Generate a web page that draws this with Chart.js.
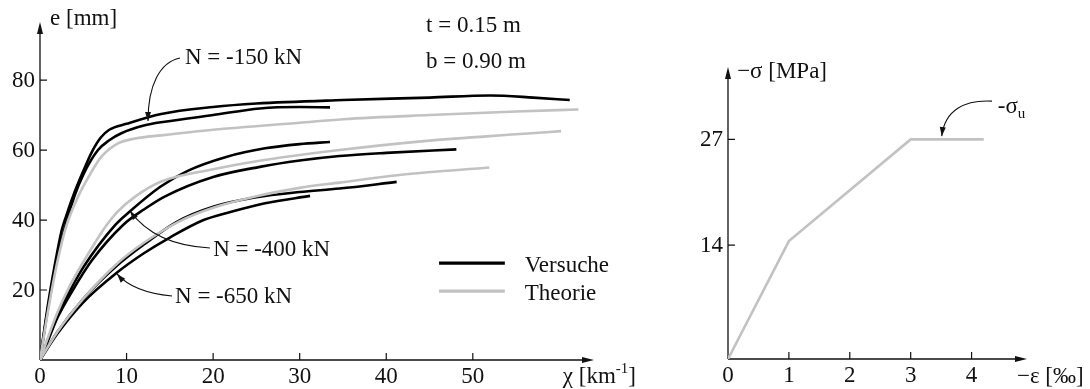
<!DOCTYPE html>
<html>
<head>
<meta charset="utf-8">
<script src="https://cdn.jsdelivr.net/npm/chart.js@4"></script>
<style>
  body { margin: 0; background: #fff; }
  #wrap { position: relative; width: 1090px; height: 389px; }
  #leftBox { position: absolute; left: 0; top: 0; }
  #rightBox { position: absolute; left: 660px; top: 0; }
</style>
</head>
<body>
<div id="wrap">
  <div id="leftBox"><canvas id="curvChart" width="660" height="389"></canvas></div>
  <div id="rightBox"><canvas id="stressChart" width="430" height="389"></canvas></div>
</div>
<script>
// ---- left chart: e [mm] vs chi [1/km] ----
// N = -150 kN
const chi150A = [0, 1, 2, 2.5, 3, 4, 5, 6, 7, 8, 10, 14, 20, 25, 35, 45, 52, 57, 61.2];
const e150A   = [0, 17, 31, 37, 41, 48, 54, 59.5, 63.5, 65.8, 67.5, 70.3, 72.3, 73.3, 74.3, 75, 75.6, 75, 74.3];
const chi150B = [0, 1, 2, 3, 4, 5, 6.7, 8, 9.4, 12, 14.4, 20, 25.4, 30, 33.5];
const e150B   = [0, 16, 29, 39, 47, 53, 60, 62.8, 64.8, 67, 68.1, 70, 71.9, 72.3, 72.2];
const chi150T = [0, 1, 2, 3, 4.4, 6, 7.1, 9, 11, 14, 20, 30, 35, 45, 55, 62.2];
const e150T   = [0, 15, 28, 38, 46.7, 54, 58.1, 61.9, 63.3, 64.2, 65.8, 67.8, 68.8, 70, 71, 71.6];
// N = -400 kN
const chi400A = [0, 1, 2, 3.5, 5, 8.7, 10.4, 13.9, 17, 21.6, 26, 30, 33.5];
const e400A   = [0, 6.5, 12.5, 20, 26.5, 38.6, 42.5, 49.5, 54, 58.1, 60.5, 61.7, 62.3];
const chi400B = [0, 1, 2, 3.8, 6, 9.6, 12, 14.4, 20, 25.4, 30, 34.6, 40, 48.1];
const e400B   = [0, 6, 12, 20, 28.5, 38.6, 43, 46.7, 52.3, 55.2, 57, 58.3, 59.2, 60.2];
const chi400T = [0, 1, 2, 3.2, 5, 7.7, 9, 11, 14, 20, 25, 34.6, 45, 55, 60.2];
const e400T   = [0, 7, 13.5, 20, 28, 38.6, 42.5, 46.7, 51, 54.5, 56.8, 60, 62.7, 64.5, 65.4];
// N = -650 kN
const chi650A = [0, 2, 5, 8.9, 12, 15.8, 20, 25, 30, 34.6, 41.2];
const e650A   = [0, 8, 17.5, 27, 33, 39.5, 43.8, 46.5, 48, 49, 50.9];
const chi650B = [0, 2, 5, 8.9, 12, 15, 18.9, 22, 26, 31.2];
const e650B   = [0, 7.5, 16.5, 25, 30.5, 35, 40, 42.3, 44.8, 46.9];
const chi650T = [0, 2, 5, 8.7, 12, 16, 20, 25, 30, 34.6, 42, 51.9];
const e650T   = [0, 8, 17.5, 27.1, 33.5, 39.5, 43.5, 46.8, 49.2, 50.7, 53, 55];

const leftXTicks = [0, 10, 20, 30, 40, 50];
const leftYTicks = [20, 40, 60, 80];

// ---- right chart: -sigma [MPa] vs -eps [permille] ----
const epsTheorie   = [0, 1, 3, 4.2];
const sigmaTheorie = [0, 14.5, 27, 27];
const rightXTicks = [0, 1, 2, 3, 4];
const rightYTicks = [14, 27];

const BLACK = '#000000';
const GRAY = '#c2c2c2';
const FONT = '23px "Liberation Serif", "Times New Roman", serif';
const SMALL = '15px "Liberation Serif", "Times New Roman", serif';

function pts(xs, ys) {
    return xs.map((x, i) => ({ x: x, y: ys[i] }));
}

function arrowHead(ctx, fx, fy, tx, ty, len, half) {
    const a = Math.atan2(ty - fy, tx - fx);
    ctx.beginPath();
    ctx.moveTo(tx, ty);
    ctx.lineTo(tx - len * Math.cos(a) + half * Math.sin(a), ty - len * Math.sin(a) - half * Math.cos(a));
    ctx.lineTo(tx - len * Math.cos(a) - half * Math.sin(a), ty - len * Math.sin(a) + half * Math.cos(a));
    ctx.closePath();
    ctx.fill();
}

// draw text made of pieces, some raised (sup) or lowered (sub)
function richText(ctx, x, y, parts) {
    let cx = x;
    parts.forEach(p => {
        ctx.font = p.sup || p.sub ? SMALL : FONT;
        const dy = p.sup ? -10 : (p.sub ? 5 : 0);
        ctx.fillText(p.t, cx, y + dy);
        cx += ctx.measureText(p.t).width;
    });
}

// axes with inward ticks and arrow ends, plus texts and annotation arrows
const axesPlugin = {
    id: 'axes',
    beforeDatasetsDraw(chart, args, opts) {
        const ctx = chart.ctx;
        const xs = chart.scales.x, ys = chart.scales.y;
        const x0 = xs.getPixelForValue(0), y0 = ys.getPixelForValue(0);
        ctx.save();
        ctx.strokeStyle = '#111';
        ctx.fillStyle = '#111';
        ctx.lineWidth = 1.3;
        ctx.beginPath();
        ctx.moveTo(x0, y0);
        ctx.lineTo(xs.right - 6, y0);
        ctx.moveTo(x0, y0);
        ctx.lineTo(x0, ys.top + 6);
        ctx.stroke();
        arrowHead(ctx, x0, y0, xs.right, y0, 12, 3);
        arrowHead(ctx, x0, y0, x0, ys.top, 12, 3);

        ctx.lineWidth = 1.2;
        ctx.beginPath();
        opts.xTicks.forEach(v => {
            if (v === 0) return;
            const px = xs.getPixelForValue(v);
            ctx.moveTo(px, y0);
            ctx.lineTo(px, y0 - 7);
        });
        opts.yTicks.forEach(v => {
            const py = ys.getPixelForValue(v);
            ctx.moveTo(x0, py);
            ctx.lineTo(x0 + 7, py);
        });
        ctx.stroke();

        ctx.font = FONT;
        ctx.textBaseline = 'alphabetic';
        ctx.textAlign = 'center';
        opts.xTicks.forEach(v => {
            ctx.fillText(String(v), xs.getPixelForValue(v), y0 + 23);
        });
        ctx.textAlign = 'right';
        ctx.textBaseline = 'middle';
        opts.yTicks.forEach(v => {
            ctx.fillText(String(v), x0 - 5, ys.getPixelForValue(v) + 1);
        });
        ctx.restore();
    },
    afterDraw(chart, args, opts) {
        const ctx = chart.ctx;
        const xs = chart.scales.x, ys = chart.scales.y;
        const X = v => xs.getPixelForValue(v), Y = v => ys.getPixelForValue(v);
        ctx.save();
        ctx.fillStyle = '#111';
        ctx.strokeStyle = '#111';
        ctx.textAlign = 'left';
        ctx.textBaseline = 'alphabetic';
        opts.texts.forEach(t => richText(ctx, X(t.at[0]), Y(t.at[1]), t.parts));

        // curved pointer arrows
        ctx.lineWidth = 1.1;
        opts.pointers.forEach(p => {
            const c = p.curve.map(q => [X(q[0]), Y(q[1])]);
            ctx.beginPath();
            ctx.moveTo(c[0][0], c[0][1]);
            ctx.bezierCurveTo(c[1][0], c[1][1], c[2][0], c[2][1], c[3][0], c[3][1]);
            ctx.stroke();
            arrowHead(ctx, c[2][0], c[2][1], c[3][0], c[3][1], 9, 3);
        });

        // legend
        (opts.legend || []).forEach(l => {
            ctx.strokeStyle = l.color;
            ctx.lineWidth = 3.2;
            ctx.beginPath();
            ctx.moveTo(X(l.line[0]), Y(l.line[2]));
            ctx.lineTo(X(l.line[1]), Y(l.line[2]));
            ctx.stroke();
        });
        ctx.restore();
    }
};

const baseOptions = {
    responsive: false,
    animation: false,
    events: [],
    elements: {
        point: { radius: 0 },
        line: { borderWidth: 2.6, cubicInterpolationMode: 'monotone', capBezierPoints: true }
    }
};

function lineSet(label, xs, ys, color) {
    return { label: label, data: pts(xs, ys), borderColor: color, fill: false };
}

new Chart(document.getElementById('curvChart'), {
    type: 'line',
    data: {
        datasets: [
            lineSet('Theorie -150', chi150T, e150T, GRAY),
            lineSet('Theorie -400', chi400T, e400T, GRAY),
            lineSet('Theorie -650', chi650T, e650T, GRAY),
            lineSet('Versuche -150 a', chi150A, e150A, BLACK),
            lineSet('Versuche -150 b', chi150B, e150B, BLACK),
            lineSet('Versuche -400 a', chi400A, e400A, BLACK),
            lineSet('Versuche -400 b', chi400B, e400B, BLACK),
            lineSet('Versuche -650 a', chi650A, e650A, BLACK),
            lineSet('Versuche -650 b', chi650B, e650B, BLACK)
        ]
    },
    options: Object.assign({}, baseOptions, {
        layout: { padding: { left: 40, right: 66, top: 22, bottom: 29 } },
        scales: {
            x: { type: 'linear', min: 0, max: 64, display: false },
            y: { type: 'linear', min: 0, max: 96.6, display: false }
        },
        plugins: {
            legend: { display: false },
            tooltip: { enabled: false },
            axes: {
                xTicks: leftXTicks,
                yTicks: leftYTicks,
                texts: [
                    { at: [1.16, 95.7], parts: [{ t: 'e [mm]' }] },
                    { at: [60.4, -6.6], parts: [{ t: 'χ [km' }, { t: '-1', sup: true }, { t: ']' }] },
                    { at: [16.75, 84.6], parts: [{ t: 'N = -150 kN' }] },
                    { at: [20.0, 29.7], parts: [{ t: 'N = -400 kN' }] },
                    { at: [15.6, 16.3], parts: [{ t: 'N = -650 kN' }] },
                    { at: [44.6, 93.7], parts: [{ t: 't = 0.15 m' }] },
                    { at: [44.6, 83.4], parts: [{ t: 'b = 0.90 m' }] },
                    { at: [56.0, 25.1], parts: [{ t: 'Versuche' }] },
                    { at: [56.0, 17.1], parts: [{ t: 'Theorie' }] }
                ],
                pointers: [
                    { curve: [[16.17, 86.3], [13.86, 85.1], [12.48, 78.6], [12.48, 68.3]] },
                    { curve: [[19.64, 32.0], [15.02, 32.6], [12.13, 36.6], [10.4, 42.6]] },
                    { curve: [[15.25, 18.3], [11.55, 19.1], [9.82, 22.0], [8.9, 24.6]] }
                ],
                legend: [
                    { line: [46.1, 53.7, 27.7], color: BLACK },
                    { line: [46.1, 53.7, 19.7], color: GRAY }
                ]
            }
        }
    }),
    plugins: [axesPlugin]
});

new Chart(document.getElementById('stressChart'), {
    type: 'line',
    data: {
        datasets: [
            { label: 'Theorie', data: pts(epsTheorie, sigmaTheorie), borderColor: GRAY, fill: false,
              cubicInterpolationMode: 'default', tension: 0 }
        ]
    },
    options: Object.assign({}, baseOptions, {
        layout: { padding: { left: 68, right: 63, top: 67, bottom: 30 } },
        scales: {
            x: { type: 'linear', min: 0, max: 4.91, display: false },
            y: { type: 'linear', min: 0, max: 35.9, display: false }
        },
        plugins: {
            legend: { display: false },
            tooltip: { enabled: false },
            axes: {
                xTicks: rightXTicks,
                yTicks: rightYTicks,
                texts: [
                    { at: [0.15, 34.5], parts: [{ t: '−σ [MPa]' }] },
                    { at: [4.745, -2.95], parts: [{ t: '−ε [‰]' }] },
                    { at: [4.43, 30.2], parts: [{ t: '-σ' }, { t: 'u', sub: true }] }
                ],
                pointers: [
                    { curve: [[4.335, 31.7], [3.89, 31.9], [3.56, 30.6], [3.51, 27.4]] }
                ]
            }
        }
    }),
    plugins: [axesPlugin]
});
</script>
</body>
</html>
